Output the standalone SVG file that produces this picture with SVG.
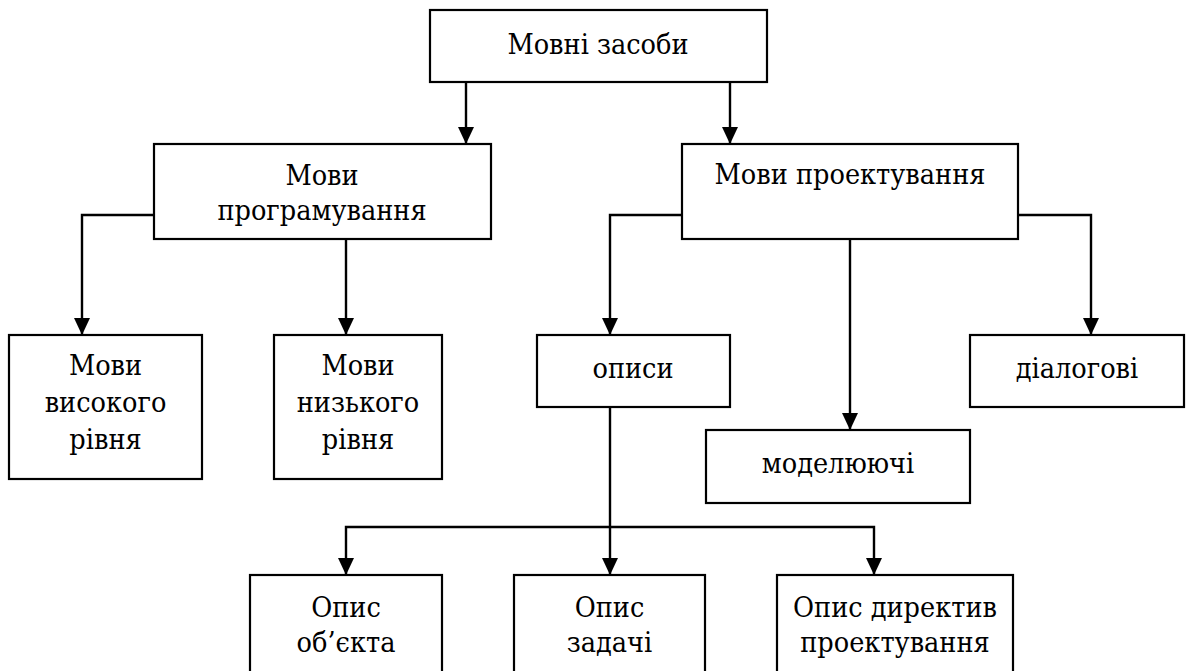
<svg xmlns="http://www.w3.org/2000/svg" width="1187" height="671" viewBox="0 0 1187 671">
<defs>
<style>
.box{fill:#fff;stroke:#000;stroke-width:2.2}
.t{font-family:"DejaVu Serif Condensed","DejaVu Serif",serif;font-stretch:condensed;font-size:28.5px;text-anchor:middle;fill:#000}
.c{fill:none;stroke:#000;stroke-width:2.4}
</style>
<marker id="ad" markerUnits="userSpaceOnUse" markerWidth="20" markerHeight="20" refX="17" refY="8" orient="auto" overflow="visible">
<path d="M0,0 L17,8 L0,16 Z" fill="#000"/>
</marker>
</defs>
<rect width="1187" height="671" fill="#fff"/>
<g id="connectors">
<path class="c" d="M466,82 V144" marker-end="url(#ad)"/>
<path class="c" d="M730,82 V144" marker-end="url(#ad)"/>
<path class="c" d="M154,215 H82 V335" marker-end="url(#ad)"/>
<path class="c" d="M346,239 V335" marker-end="url(#ad)"/>
<path class="c" d="M682,215 H610 V335" marker-end="url(#ad)"/>
<path class="c" d="M850,239 V430" marker-end="url(#ad)"/>
<path class="c" d="M1018,215 H1091 V335" marker-end="url(#ad)"/>
<path class="c" d="M610,407 V575" marker-end="url(#ad)"/>
<path class="c" d="M610,527 H346 V575" marker-end="url(#ad)"/>
<path class="c" d="M610,527 H874 V575" marker-end="url(#ad)"/>
</g>
<g id="n-movni-zasoby"><rect class="box" x="430" y="10" width="337" height="72"/><text class="t" x="598" y="54">Мовні засоби</text></g>
<g id="n-prog"><rect class="box" x="154" y="144" width="337" height="95"/><text class="t" x="322" y="185">Мови</text><text class="t" x="322" y="220">програмування</text></g>
<g id="n-proj"><rect class="box" x="682" y="144" width="336" height="95"/><text class="t" x="850" y="184">Мови проектування</text></g>
<g id="n-high"><rect class="box" x="9" y="335" width="193" height="144"/><text class="t" x="105.5" y="375">Мови</text><text class="t" x="105.5" y="412">високого</text><text class="t" x="105.5" y="449">рівня</text></g>
<g id="n-low"><rect class="box" x="274" y="335" width="168" height="144"/><text class="t" x="358" y="375">Мови</text><text class="t" x="358" y="412">низького</text><text class="t" x="358" y="449">рівня</text></g>
<g id="n-opysy"><rect class="box" x="537" y="335" width="193" height="72"/><text class="t" x="633" y="378">описи</text></g>
<g id="n-dialog"><rect class="box" x="970" y="335" width="214" height="72"/><text class="t" x="1077" y="378">діалогові</text></g>
<g id="n-model"><rect class="box" x="706" y="430" width="264" height="73"/><text class="t" x="838" y="473">моделюючі</text></g>
<g id="n-obj"><rect class="box" x="250" y="575" width="192" height="130"/><text class="t" x="346" y="617">Опис</text><text class="t" x="346" y="652">об’єкта</text></g>
<g id="n-task"><rect class="box" x="514" y="575" width="191" height="130"/><text class="t" x="609.5" y="617">Опис</text><text class="t" x="609.5" y="652">задачі</text></g>
<g id="n-dir"><rect class="box" x="777" y="575" width="236" height="130"/><text class="t" x="895" y="617">Опис директив</text><text class="t" x="895" y="652">проектування</text></g>
</svg>
